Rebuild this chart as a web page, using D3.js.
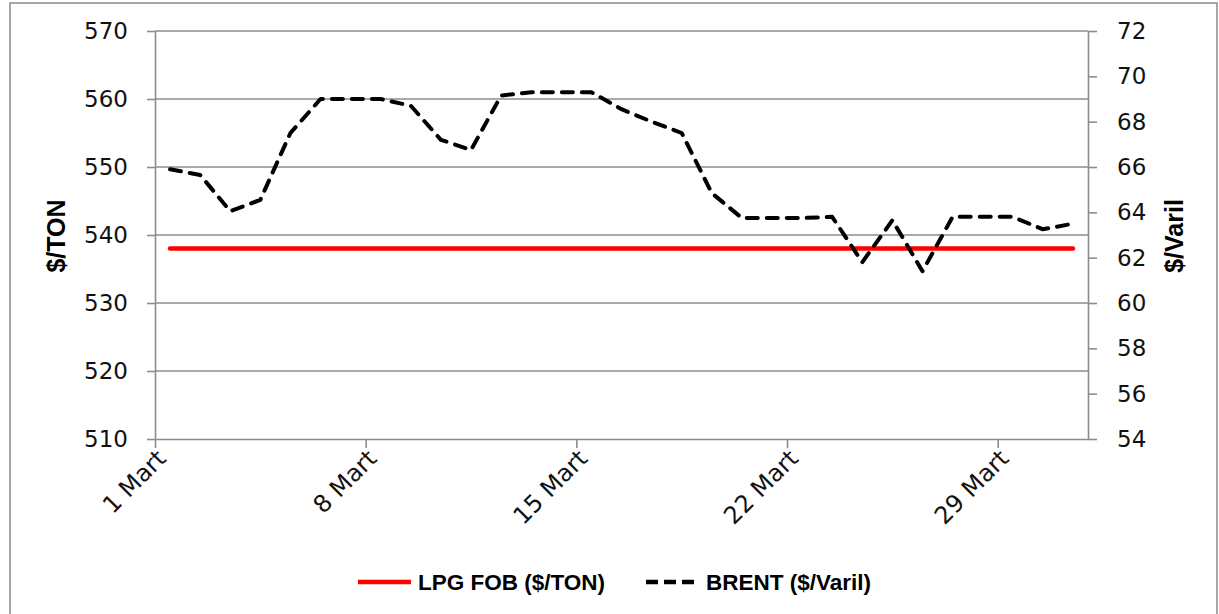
<!DOCTYPE html>
<html>
<head>
<meta charset="utf-8">
<script src="https://cdn.jsdelivr.net/npm/d3@7"></script>
<style>
  body { margin: 0; background: #fff; }
  svg { display: block; }
  .tick text { font-family: "DejaVu Sans", sans-serif; fill: #111; }
</style>
</head>
<body>
<svg id="chart"></svg>
<script>
let width = 1219;
let height = 614;

// data
let days = [1,2,3,4,5,6,7,8,9,10,11,12,13,14,15,16,17,18,19,20,21,22,23,24,25,26,27,28,29,30,31];
let lpg = [538,538,538,538,538,538,538,538,538,538,538,538,538,538,538,538,538,538,538,538,538,538,538,538,538,538,538,538,538,538,538];
let brent = [65.9,65.65,64.05,64.55,67.5,69.0,69.0,69.0,68.7,67.2,66.75,69.15,69.3,69.3,69.3,68.55,68.0,67.5,64.85,63.75,63.75,63.75,63.8,61.8,63.65,61.4,63.8,63.8,63.8,63.25,63.5];
let tickIdx = [0,7,14,21,28];
let tickLabels = ["1 Mart","8 Mart","15 Mart","22 Mart","29 Mart"];
let leftTicks = [510,520,530,540,550,560,570];
let rightTicks = [54,56,58,60,62,64,66,68,70,72];

let plotLeft = 155, plotRight = 1088, plotTop = 31, plotBottom = 439;

const svg = d3.select('#chart')
    .attr('width', width)
    .attr('height', height);

// outer frame
svg.append('rect')
    .attr('x', 10).attr('y', 3)
    .attr('width', 1207).attr('height', 700)
    .attr('fill', 'none')
    .attr('stroke', '#8a8a8a')
    .attr('stroke-width', 1.5);

let xScale = d3.scaleLinear().domain([0, days.length]).range([plotLeft, plotRight]);
let yLeft = d3.scaleLinear().domain([510, 570]).range([plotBottom, plotTop]);
let yRight = d3.scaleLinear().domain([54, 72]).range([plotBottom, plotTop]);

// gridlines
svg.append('g')
    .selectAll('line')
    .data(leftTicks.slice(1))
    .enter()
    .append('line')
        .attr('x1', plotLeft).attr('x2', plotRight)
        .attr('y1', d => yLeft(d)).attr('y2', d => yLeft(d))
        .attr('stroke', '#8c8c8c')
        .attr('stroke-width', 1.6);

function styleAxis(g) {
    g.select('.domain').attr('stroke', '#8c8c8c').attr('stroke-width', 1.6);
    g.selectAll('.tick line').attr('stroke', '#8c8c8c').attr('stroke-width', 1.6);
}

// left axis
svg.append('g')
    .attr('transform', `translate(${plotLeft},0)`)
    .call(d3.axisLeft(yLeft).tickValues(leftTicks).tickSize(8).tickSizeOuter(0).tickPadding(19))
    .call(styleAxis)
    .selectAll('text').style('font-size', '23px');

// right axis
svg.append('g')
    .attr('transform', `translate(${plotRight},0)`)
    .call(d3.axisRight(yRight).tickValues(rightTicks).tickSize(9).tickSizeOuter(0).tickPadding(20))
    .call(styleAxis)
    .selectAll('text').style('font-size', '23px');

// bottom axis
let xAxis = svg.append('g')
    .attr('transform', `translate(0,${plotBottom})`)
    .call(d3.axisBottom(xScale).tickValues(tickIdx).tickSize(9).tickSizeOuter(0)
        .tickFormat((d, i) => tickLabels[i]))
    .call(styleAxis);

xAxis.selectAll('text')
    .style('font-size', '24px')
    .attr('text-anchor', 'end')
    .attr('dy', null)
    .attr('y', null)
    .attr('transform', 'translate(12,21) rotate(-45)');

// axis titles
svg.append('text')
    .attr('transform', 'translate(65,236) rotate(-90)')
    .attr('text-anchor', 'middle')
    .style('font-family', '"Liberation Sans", sans-serif')
    .style('font-weight', 'bold')
    .style('font-size', '25px')
    .text('$/TON');

svg.append('text')
    .attr('transform', 'translate(1183,236) rotate(-90)')
    .attr('text-anchor', 'middle')
    .style('font-family', '"Liberation Sans", sans-serif')
    .style('font-weight', 'bold')
    .style('font-size', '25px')
    .text('$/Varil');

// lines
let lpgLine = d3.line()
    .x((d, i) => xScale(i + 0.5))
    .y(d => yLeft(d));

let brentLine = d3.line()
    .x((d, i) => xScale(i + 0.5))
    .y(d => yRight(d));

svg.append('path')
    .datum(lpg)
    .attr('d', lpgLine)
    .attr('fill', 'none')
    .attr('stroke', '#ff0000')
    .attr('stroke-width', 4.5)
    .attr('stroke-linecap', 'round');

svg.append('path')
    .datum(brent)
    .attr('d', brentLine)
    .attr('fill', 'none')
    .attr('stroke', '#000')
    .attr('stroke-width', 4)
    .attr('stroke-linecap', 'round')
    .attr('stroke-linejoin', 'round')
    .attr('stroke-dasharray', '11,9');

// legend
let legend = [
    { name: 'LPG FOB ($/TON)', color: '#ff0000', dash: null, x: 358 },
    { name: 'BRENT ($/Varil)', color: '#000', dash: '12,6', x: 646 }
];

let lg = svg.append('g').selectAll('g')
    .data(legend)
    .enter()
    .append('g')
    .attr('transform', d => `translate(${d.x},582)`);

lg.append('line')
    .attr('x1', 0).attr('x2', 53)
    .attr('stroke', d => d.color)
    .attr('stroke-width', 4.5)
    .attr('stroke-dasharray', d => d.dash);

lg.append('text')
    .attr('x', 60)
    .attr('dy', '0.36em')
    .style('font-family', '"Liberation Sans", sans-serif')
    .style('font-weight', 'bold')
    .style('font-size', '22.5px')
    .text(d => d.name);
</script>
</body>
</html>
